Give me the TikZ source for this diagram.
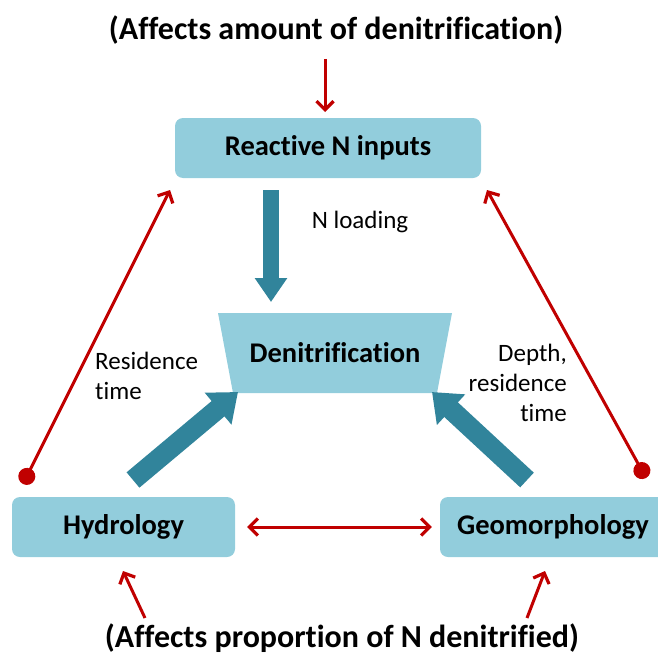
\documentclass[tikz,border=0pt]{standalone}
\usepackage{fontspec}
\setmainfont{Carlito}[Ligatures={TeX,NoCommon}]
\usetikzlibrary{arrows.meta}
\definecolor{boxblue}{HTML}{92CDDC}
\definecolor{teal}{HTML}{31849B}
\definecolor{dred}{HTML}{C00000}
\tikzset{
  box/.style={fill=boxblue, rounded corners=8pt, inner sep=0pt, font=\fontsize{28.5}{32}\selectfont\bfseries},
  title/.style={font=\fontsize{32}{36}\selectfont\bfseries, inner sep=0pt},
  lbl/.style={font=\fontsize{25}{30}\selectfont, inner sep=0pt},
  barb/.tip={Straight Barb[length=8.5pt,width=17pt,line width=3.2pt]},
  redarrow/.style={draw=dred, line width=3pt, -barb},
  reddot/.style={draw=dred, line width=3pt, {Circle[length=17pt,width=17pt]}-barb},
  redboth/.style={draw=dred, line width=3pt, barb-barb},
  fat/.style={draw=teal, line width=20pt, -{Triangle[length=26pt,width=40pt]}},
  thin/.style={draw=teal, line width=16pt, -{Triangle[length=24pt,width=31pt]}},
}
\begin{document}
\begin{tikzpicture}[x=1pt,y=-1pt]
\useasboundingbox (0,0) rectangle (658,661);
% titles
\node[title] (ttop) at (336,30) {(Affects amount of denitrification)};
\node[title] (tbot) at (342,638) {(Affects proportion of N denitrified)};
% boxes
\node[box, minimum width=306pt, minimum height=60pt] (rn) at (328,148) {Reactive N inputs};
\node[box, minimum width=223pt, minimum height=60pt] (hyd) at (123.5,527) {Hydrology};
\node[box, minimum width=226pt, minimum height=60pt] (geo) at (553,527) {Geomorphology};
% trapezoid
\fill[boxblue] (218,313) -- (452,313) -- (437,393) -- (233,393) -- cycle;
\node[font=\fontsize{28.5}{32}\selectfont\bfseries, inner sep=0pt] (den) at (335,353) {Denitrification};
% labels
\node[lbl] (nl) at (360,222) {N loading};
\node[lbl, align=left, anchor=north west] (rt) at (95,352) {Residence\\time};
\node[lbl, align=right, anchor=north east] (dr) at (567,344) {Depth,\\residence\\time};
% coordinates
\coordinate (ttopA) at (325,59);
\coordinate (rnA) at (325,112);
\coordinate (nlA) at (271,190);
\coordinate (denA) at (271,302);
\coordinate (hydT) at (133,480);
\coordinate (denL) at (238,392);
\coordinate (geoT) at (527,480);
\coordinate (denR) at (432,392);
\coordinate (hydD) at (23,484);
\coordinate (rnL) at (170,190);
\coordinate (geoD) at (646,478);
\coordinate (rnR) at (487,190);
\coordinate (hydB) at (145,618);
\coordinate (hydBT) at (123,571);
\coordinate (geoB) at (527,618);
\coordinate (geoBT) at (545,571);
% teal arrows
\draw[thin] (nlA) -- (denA);
\draw[fat] (hydT) -- (denL);
\draw[fat] (geoT) -- (denR);
% red arrows
\draw[redarrow] (ttopA) -- (rnA);
\draw[reddot] (hydD) -- (rnL);
\draw[reddot] (geoD) -- (rnR);
\draw[redboth] ([xshift=12pt]hyd.east) -- ([xshift=-8pt]geo.west);
\draw[redarrow] (hydB) -- (hydBT);
\draw[redarrow] (geoB) -- (geoBT);
\end{tikzpicture}
\end{document}
